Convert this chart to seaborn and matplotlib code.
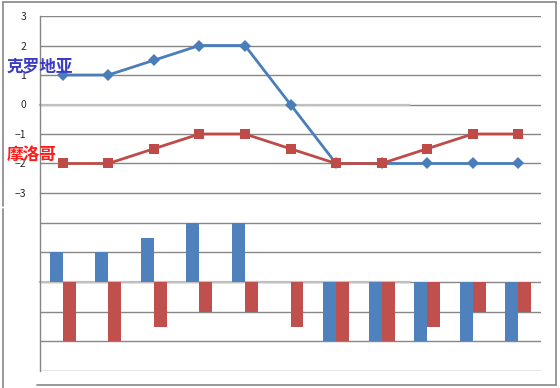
"""
Croatia vs Morocco - rating lines with mirrored bar panel.
Saves out.png (560x388).
"""

import pandas as pd
import matplotlib.pyplot as plt
from matplotlib.lines import Line2D
import seaborn as sns

# Data
ROUNDS = ['1', '2', '3', '4', '5', '6', '7', '8', '9', '10', '11']
CROATIA = [1, 1, 1.5, 2, 2, 0, -2, -2, -2, -2, -2]
MOROCCO = [-2, -2, -1.5, -1, -1, -1.5, -2, -2, -1.5, -1, -1]
TEAM_NAMES = ['克罗地亚', '摩洛哥']
Y_TICKS = [-3, -2, -1, 0, 1, 2, 3]

BLUE_LINE = '#4a7ebb'
RED_LINE = '#be4b48'
BLUE_BAR = '#4f81bd'
RED_BAR = '#c0504d'
GRID = '#868686'
ZERO = '#c0c0c0'

W, H = 560, 388


def px_box(x0, y0, x1, y1):
    """Pixel box (top-left origin) -> figure fraction rect."""
    return [x0 / W, 1 - y1 / H, (x1 - x0) / W, (y1 - y0) / H]


def style_axis(ax, show_labels):
    ax.set_xlim(-0.5, len(ROUNDS) - 0.5)
    ax.set_ylim(-3, 3)
    ax.set_yticks(Y_TICKS)
    for y in Y_TICKS:
        ax.axhline(y, color=GRID, linewidth=1, zorder=0)
    for side in ['top', 'right']:
        ax.spines[side].set_visible(False)
    ax.spines['left'].set_color(GRID)
    ax.spines['left'].set_linewidth(1)
    ax.spines['bottom'].set_position(('data', 0))
    ax.spines['bottom'].set_color(ZERO)
    ax.spines['bottom'].set_linewidth(1.6)
    ax.spines['bottom'].set_bounds(-0.5, 7.6)
    ax.spines['bottom'].set_zorder(1)
    ax.set_xticks([i + 0.5 for i in range(len(ROUNDS))])
    ax.set_xticklabels([])
    ax.tick_params(axis='x', direction='out', length=4, width=1, color=GRID)
    ax.tick_params(axis='y', direction='out', length=4 if show_labels else 2.5,
                   width=1, color=GRID, labelsize=7.5, pad=6,
                   labelleft=show_labels)
    ax.set_xlabel('')
    ax.set_ylabel('')
    ax.grid(False)


def main():
    sns.set_theme(style='white')
    plt.rcParams['font.family'] = ['Noto Sans CJK SC', 'DejaVu Sans']

    fig = plt.figure(figsize=(W / 100, H / 100), dpi=100)
    ax_top = fig.add_axes(px_box(40, 16, 541, 193))
    ax_bot = fig.add_axes(px_box(40, 193, 541, 371))

    # Top: lines
    xs = list(range(len(ROUNDS)))
    sns.lineplot(x=xs, y=CROATIA, ax=ax_top, color=BLUE_LINE, linewidth=2,
                 marker='D', markersize=6, markeredgewidth=0, zorder=3)
    sns.lineplot(x=xs, y=MOROCCO, ax=ax_top, color=RED_LINE, linewidth=2,
                 marker='s', markersize=7, markeredgewidth=0, zorder=3)
    style_axis(ax_top, True)

    # Bottom: mirrored bars
    df = pd.DataFrame({
        'round': ROUNDS * 2,
        'value': CROATIA + MOROCCO,
        'team': [TEAM_NAMES[0]] * len(ROUNDS) + [TEAM_NAMES[1]] * len(ROUNDS),
    })
    sns.barplot(data=df, x='round', y='value', hue='team', ax=ax_bot,
                palette=[BLUE_BAR, RED_BAR], width=0.57, saturation=1,
                linewidth=0, edgecolor='none', legend=False, zorder=2)
    style_axis(ax_bot, False)

    # Team labels
    fig.text(7 / W, 1 - 66 / H, TEAM_NAMES[0], color='#3b3bc4', fontsize=12,
             fontweight='bold', va='center', ha='left')
    fig.text(7 / W, 1 - 155 / H, TEAM_NAMES[1], color='#ff1a1a', fontsize=12,
             fontweight='bold', va='center', ha='left')

    # Chart frames
    frame = dict(color=GRID, linewidth=1.2, transform=fig.transFigure)
    for (x0, y0), (x1, y1) in [((3, 2), (3, 206)), ((3, 2), (556, 2)),
                               ((556, 2), (556, 385)), ((3, 209), (3, 388)),
                               ((37, 385), (556, 385))]:
        fig.add_artist(Line2D([x0 / W, x1 / W], [1 - y0 / H, 1 - y1 / H], **frame))

    fig.savefig('out.png', dpi=100)
    plt.close(fig)


if __name__ == '__main__':
    main()
